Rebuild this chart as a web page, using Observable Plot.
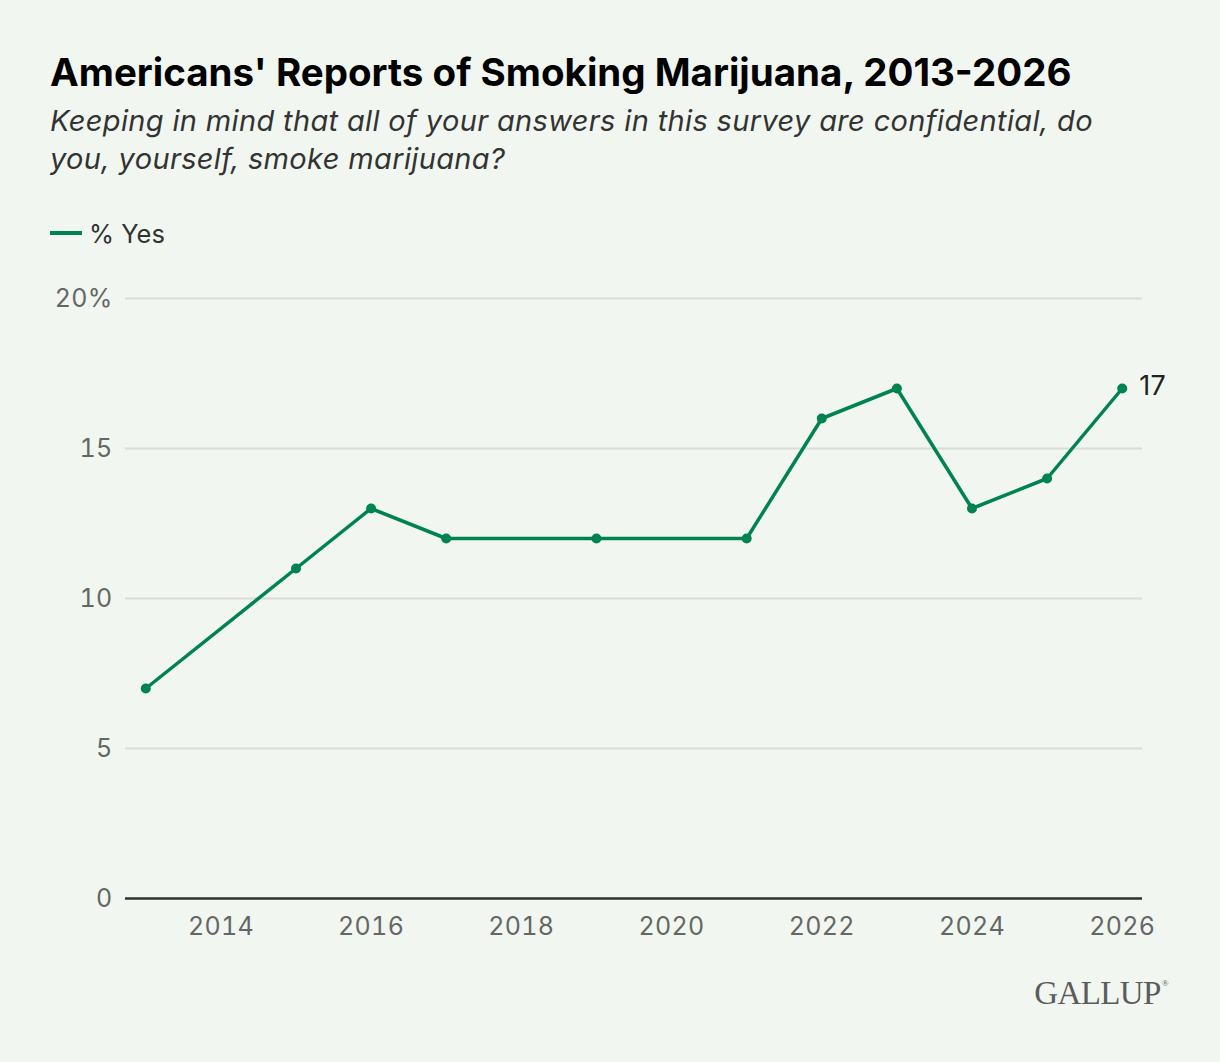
<!DOCTYPE html>
<html>
<head>
<meta charset="utf-8">
<script src="https://cdn.jsdelivr.net/npm/d3@7"></script>
<script src="https://cdn.jsdelivr.net/npm/@observablehq/plot@0.6"></script>
<style>
  html, body { margin: 0; padding: 0; background: #f1f7f0; }
  body { width: 1220px; height: 1062px; position: relative; overflow: hidden; font-family: Inter, "Noto Sans", sans-serif; }
  #title { position: absolute; left: 50px; top: 53px; font-size: 38.5px; line-height: 38px; font-weight: 700; color: #000; white-space: nowrap; }
  #subtitle { position: absolute; left: 50px; top: 102px; font-size: 29px; line-height: 38px; letter-spacing: 0.35px; font-style: italic; color: #333; white-space: nowrap; }
  #legend { position: absolute; left: 50px; top: 216px; height: 34px; display: flex; align-items: center; font-size: 25.5px; color: #333; }
  #legend .sw { width: 32px; height: 3.5px; background: #00834f; margin-right: 7px; }
  #chart { position: absolute; left: 0; top: 260px; }
  #logo { position: absolute; right: 52px; top: 975px; font-family: "Liberation Serif", "DejaVu Serif", serif; font-size: 33px; color: #5b5b5b; letter-spacing: -0.6px; }
  #logo sup { font-size: 9px; vertical-align: 18px; margin-left: 1px; }
</style>
</head>
<body>
<div id="title">Americans' Reports of Smoking Marijuana, 2013-2026</div>
<div id="subtitle">Keeping in mind that all of your answers in this survey are confidential, do<br>you, yourself, smoke marijuana?</div>
<div id="legend"><span class="sw"></span><span>% Yes</span></div>
<div id="chart"></div>
<div id="logo">GALLUP<sup>®</sup></div>
<script>
const years = [2013, 2015, 2016, 2017, 2019, 2021, 2022, 2023, 2024, 2025, 2026];
const yesPct = [7, 11, 13, 12, 12, 12, 16, 17, 13, 14, 17];
const yTicks = [0, 5, 10, 15, 20];
const xTicks = [2014, 2016, 2018, 2020, 2022, 2024, 2026];
const green = "#00834f";

const data = years.map((year, i) => ({ year, pct: yesPct[i] }));
const last = data[data.length - 1];

const chart = Plot.plot({
  width: 1220,
  height: 698,
  marginLeft: 125,
  marginRight: 78,
  marginTop: 38,
  marginBottom: 60,
  style: { background: "transparent", fontFamily: "Inter, 'Noto Sans', sans-serif", fontSize: "25px", color: "#666", letterSpacing: "0.3px" },
  x: { domain: [2012.73, 2026.27] },
  y: { domain: [0, 20] },
  marks: [
    Plot.ruleY(yTicks.filter(d => d > 0), { stroke: "#d8ddd6", strokeWidth: 2 }),
    Plot.ruleY([0], { stroke: "#2f332f", strokeWidth: 2.5 }),
    Plot.axisY(yTicks, { tickSize: 0, tickPadding: 13, tickFormat: d => d === 20 ? "20%" : String(d), label: null, fontSize: 25 }),
    Plot.axisX(xTicks, { tickSize: 0, tickPadding: 19, tickFormat: d => String(d), label: null, fontSize: 25 }),
    Plot.line(data, { x: "year", y: "pct", stroke: green, strokeWidth: 3.5 }),
    Plot.dot(data, { x: "year", y: "pct", r: 5, fill: green }),
    Plot.text([last], { x: "year", y: "pct", text: d => String(d.pct), textAnchor: "start", dx: 17, dy: -2, fontSize: 27, fill: "#222" })
  ]
});
document.getElementById("chart").appendChild(chart);
</script>
</body>
</html>
